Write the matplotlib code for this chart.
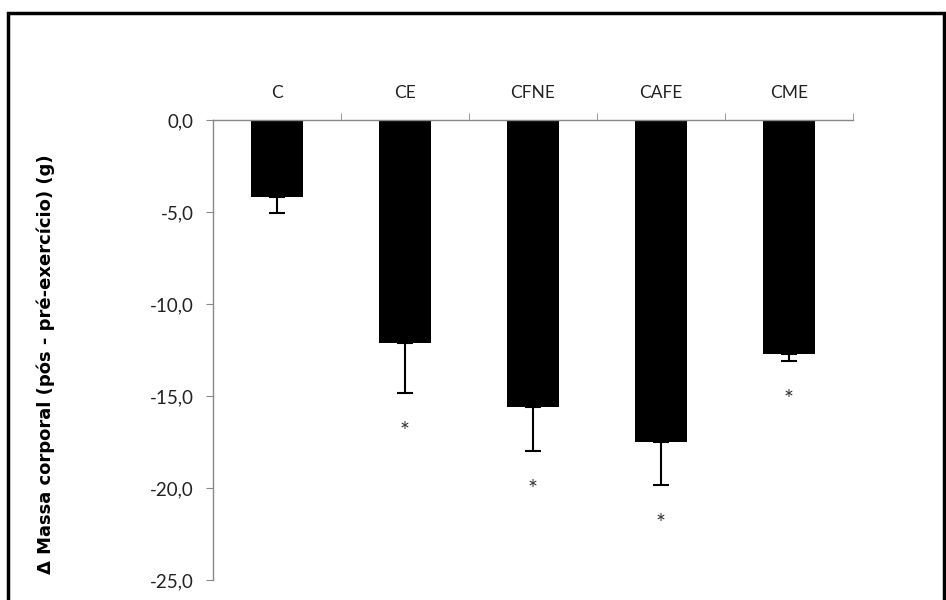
import numpy as np
import matplotlib
matplotlib.use('Agg')
import matplotlib.pyplot as plt
from matplotlib.patches import Rectangle

grupos = ['C', 'CE', 'CFNE', 'CAFE', 'CME']
delta_massa = [-4.2, -12.1, -15.6, -17.5, -12.7]
erro_padrao = [0.85, 2.75, 2.4, 2.35, 0.4]
significativo = [False, True, True, True, True]
yticks = [0, -5, -10, -15, -20, -25]

plt.rcParams['font.family'] = ['Lato', 'DejaVu Sans']

fig = plt.figure(figsize=(9.46, 6), dpi=100)
ax = fig.add_axes([213 / 946, 20 / 600, 640 / 946, 460 / 600])

x = np.arange(len(grupos))
# Barras com erro apenas para baixo (valores negativos)
ax.bar(x, delta_massa, width=0.41, color='black', zorder=2)
ax.errorbar(x, delta_massa, yerr=[erro_padrao, np.zeros(len(grupos))],
            fmt='none', ecolor='black', elinewidth=1.5, capsize=6, capthick=1.5, zorder=3)

# Asteriscos abaixo das barras de erro
for i, (m, e, s) in enumerate(zip(delta_massa, erro_padrao, significativo)):
    if s:
        ax.annotate('*', xy=(i, m - e), xytext=(0, -20), textcoords='offset points',
                    ha='center', va='top', fontsize=17, color='#333333')

ax.set_xlim(-0.5, len(grupos) - 0.5)
ax.set_ylim(-25, 0)
ax.set_yticks(yticks)
ax.set_yticklabels([f'{v:.1f}'.replace('.', ',') for v in yticks], fontsize=13.5, color='#222222')

# Eixo x no topo, nomes dos grupos acima da linha do zero
ax.xaxis.tick_top()
ax.set_xticks(x)
ax.set_xticklabels(grupos, fontsize=12.5, color='#222222')
ax.tick_params(axis='x', which='major', length=0, pad=14)
ax.set_xticks(list(x + 0.5), minor=True)
ax.tick_params(axis='x', which='minor', length=5, color='#888888', top=True, bottom=False)
ax.tick_params(axis='y', length=5, color='#888888', pad=9)

for lado in ['right', 'bottom']:
    ax.spines[lado].set_visible(False)
for lado in ['top', 'left']:
    ax.spines[lado].set_color('#888888')
    ax.spines[lado].set_linewidth(1.0)

ax.set_ylabel('Δ Massa corporal (pós - pré-exercício) (g)', fontsize=13,
              fontweight='bold', family='DejaVu Sans', va='center')
ax.yaxis.set_label_coords(-0.262, 0.47)

# Moldura da figura
fig.patches.append(Rectangle((8 / 946, -0.2), 936 / 946, 1.2 - 13 / 600,
                             transform=fig.transFigure, fill=False,
                             edgecolor='black', linewidth=2.5))

fig.savefig('out.png', dpi=100)
